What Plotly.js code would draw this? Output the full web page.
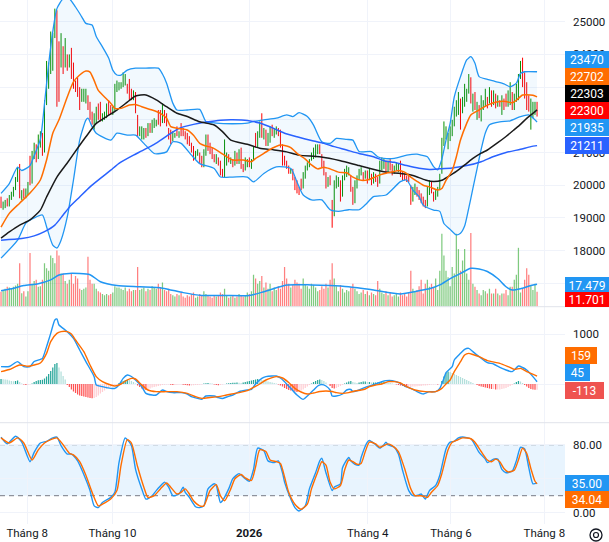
<!DOCTYPE html>
<html>
<head>
<meta charset="utf-8">
<script src="https://cdn.plot.ly/plotly-3.0.1.min.js"></script>
<style>
  html, body { margin: 0; padding: 0; background: #fff; }
  #chart { width: 609px; height: 542px; }
</style>
</head>
<body>
<div id="chart"></div>
<script>
// daily bars, mid-Jul 2025 .. end of Jul 2026 (bar index on the x axis)
var opens = [
  19600,19350,19450,19500,19400,19650,19750,19900,20200,20450,
  19650,19800,19650,19850,20500,20100,20950,21200,20850,21300,
  21550,21050,22500,23300,23650,24100,24550,25200,24300,23650,
  24200,23600,24000,23600,23900,23500,23150,23100,22900,22550,
  22600,22550,22750,22500,22200,21800,21950,22400,22350,22000,
  22050,22100,22550,22300,22200,22300,22900,23000,23050,23050,
  23200,23100,23200,22900,22650,22800,22150,21550,21500,21450,
  21700,21500,21850,21650,21800,21850,22000,22250,21900,22300,
  22050,21750,21450,21350,21500,21600,21500,21700,21600,21550,
  21500,21300,21250,21100,20850,20950,21000,20750,20600,20950,
  21300,21100,21050,20850,20700,20850,20650,20350,20300,20750,
  20950,20750,20800,20600,20950,20700,21050,20600,20450,20650,
  20800,20600,20750,21550,21200,21500,21950,21500,21700,21300,
  21350,21750,21550,21600,21750,21650,21200,20800,20700,20550,
  20400,20450,20200,19950,19850,20150,19900,20300,20500,20600,
  20750,20900,21050,21100,21150,20900,20700,20350,19950,20300,
  19500,19050,20000,20050,20150,19650,20200,20300,20400,20300,
  19850,19450,20000,20200,20400,20400,20250,20400,20150,20350,
  20050,20350,20200,20050,20500,20600,20750,20400,20800,20550,
  20350,20450,20500,20700,20350,20250,20200,20250,20000,19550,
  19800,19950,19750,19650,19550,19450,19400,19800,20050,19800,
  19550,19750,19900,20350,21300,21450,21150,21400,21550,21850,
  22150,22200,22650,22250,22450,22650,22850,23300,22300,22800,
  22050,22450,22000,22350,22450,22700,22500,22900,22450,22800,
  22400,22600,22200,22650,22750,22450,22500,22850,22350,22600,
  22650,23300,23800,23400,23000,22700,22250,22100,22200,22500
];
var highs = [
  19650,19500,19550,19600,19700,19800,19950,20250,20550,20650,
  19850,19900,19900,20100,20900,21050,21300,21250,21550,21650,
  21600,22600,23800,23750,24700,24650,25400,25350,24400,24650,
  24250,24500,24000,24000,24200,23750,23200,23300,23000,22950,
  22950,22950,22750,22550,22250,22200,22400,22500,22550,22200,
  22250,22500,22600,22450,22400,23100,23200,23150,23150,23450,
  23400,23100,23250,22950,22900,22850,22150,21800,21800,21750,
  21750,21900,21900,22000,22050,22000,22300,22300,22500,22300,
  22200,21750,21700,21650,21600,21800,21650,21900,21750,21650,
  21600,21500,21300,21200,21050,21100,21000,20900,21100,21550,
  21550,21300,21150,20950,20950,20850,20750,20500,21400,21000,
  20950,20850,20800,21050,21000,21100,21150,20650,20850,20800,
  20850,20800,21200,21600,21650,21950,22200,21750,21700,21600,
  21800,21850,21750,21800,21750,21700,21250,20900,20750,20600,
  20500,20500,20250,20150,19950,20200,20400,20600,20700,20800,
  21000,21150,21250,21250,21250,20950,20750,20400,20250,20300,
  19550,20150,20300,20250,20150,20300,20500,20600,20550,20300,
  19950,20150,20300,20500,20550,20400,20450,20450,20500,20350,
  20400,20350,20250,20750,20850,20800,20750,20750,20800,20650,
  20600,20700,20650,20750,20400,20350,20300,20350,20000,19950,
  20050,19950,19850,19750,19650,19550,19950,20150,20100,19800,
  19850,19950,20350,21450,21950,21800,21600,21800,22000,22400,
  22600,22850,22650,22700,23100,22950,23400,23300,22800,22850,
  22550,22450,22750,22600,22950,22700,23000,22900,22900,22800,
  22750,22600,22750,22650,22800,22900,23150,22850,22800,23100,
  23400,23800,23900,23450,23150,22750,22650,22550,22550,22550
];
var lows = [
  19300,19250,19300,19350,19350,19550,19650,19850,20100,19600,
  19550,19600,19600,19700,20000,20050,20800,20700,20800,21150,
  20900,21000,22450,22950,23400,23500,24500,22400,22550,23600,
  23400,23600,23500,23600,23250,22950,22850,22700,22300,22550,
  22550,22500,22300,22000,21850,21700,21900,22000,21950,21950,
  22000,22050,22150,22150,22150,22250,22850,22900,22950,23000,
  23050,22800,22600,22600,22600,22200,21500,21500,21400,21400,
  21450,21500,21600,21600,21750,21800,21850,21800,21900,21900,
  21800,21400,21250,21350,21450,21500,21450,21500,21500,21400,
  21250,21200,21000,20750,20800,20900,20650,20550,20550,20900,
  21050,20950,20800,20700,20650,20600,20300,20250,20250,20600,
  20700,20650,20550,20600,20650,20650,20500,20400,20450,20550,
  20550,20500,20750,21150,21150,21450,21450,21400,21200,21200,
  21300,21500,21450,21550,21500,21150,20600,20600,20500,20350,
  20350,20150,19850,19750,19700,19850,19900,20200,20450,20550,
  20750,20800,20850,20950,20950,20550,20300,19900,19950,20000,
  18700,19050,19900,19950,19500,19650,20150,20250,20300,19800,
  19400,19450,19900,20150,20300,20150,20200,20050,20150,20000,
  20050,20100,19950,20050,20450,20500,20350,20400,20450,20300,
  20350,20450,20400,20250,20150,20150,20100,20100,19400,19500,
  19700,19650,19550,19450,19350,19300,19350,19700,19750,19500,
  19550,19650,19850,20350,21200,21400,21100,21350,21500,21800,
  22100,22150,21700,22200,22400,22550,22800,22500,22250,22300,
  22000,22050,21950,22300,22400,22350,22500,22400,22450,22350,
  22400,22400,22150,22300,22400,22400,22450,22300,22300,22550,
  22600,23250,23000,22650,22300,22250,21700,22050,22150,22100
];
var closes = [
  19350,19450,19500,19400,19650,19750,19900,20200,20450,19650,
  19800,19650,19850,20050,20100,20950,21200,20850,21450,21550,
  21050,22500,23600,23650,24500,24550,25200,22700,22900,24450,
  23500,24300,23600,23900,23350,23000,22900,22750,22400,22900,
  22850,22900,22400,22100,21900,22150,22300,22050,22050,22150,
  22200,22450,22200,22200,22350,23000,23100,23100,23100,23350,
  23300,22850,22700,22650,22850,22300,21600,21750,21750,21700,
  21500,21850,21650,21950,22000,21950,21900,21850,22400,22000,
  21850,21450,21300,21600,21550,21550,21600,21550,21550,21450,
  21300,21250,21050,20850,21000,21050,20700,20600,21000,21450,
  21100,21000,20850,20750,20900,20650,20350,20300,21250,20950,
  20750,20800,20600,20950,20700,21050,20550,20450,20800,20750,
  20600,20750,21150,21200,21550,21900,21550,21700,21250,21350,
  21750,21550,21700,21750,21550,21200,20700,20650,20550,20400,
  20450,20200,19950,19800,19750,19900,20350,20550,20650,20750,
  20950,21100,21200,21200,21100,20600,20350,19950,20200,20050,
  19050,20100,20250,20200,19600,20250,20450,20550,20500,19850,
  19450,20100,20250,20450,20500,20200,20400,20100,20450,20050,
  20350,20150,20000,20700,20800,20750,20400,20700,20500,20350,
  20550,20650,20600,20300,20200,20200,20150,20150,19500,19900,
  20000,19700,19600,19500,19400,19350,19850,20100,19800,19550,
  19800,19900,20300,21350,21850,21750,21550,21750,21950,22350,
  22550,22800,21800,22650,23000,22900,23300,22600,22750,22350,
  22500,22100,22650,22550,22900,22400,22950,22450,22850,22400,
  22700,22450,22700,22350,22450,22850,23100,22350,22750,23050,
  23350,23750,23100,22700,22400,22300,22600,22500,22450,22300
];
// volume, millions
var volumes = [
  11.7,12.5,14,15.5,15,14,15.5,16.5,18,34,
  10.5,12,8,12,42,18,20,21,15.5,16,
  21,34,30,28,40,38,34,44,40,26,
  26,20,18,21,26,18,24,22,14,13,
  14,15,39,21,18,18,14,12,11,10,
  9,10,9,10,11,16,15,15,14,13,
  15,12,14,12,13,13,31,13,14,15,
  12,14,13,16,15,14,18,15,19,13,
  12,14,10,9,8,10,9,11,8,7,
  9,8,10,11,7,8,10,9,12,10,
  9,8,7,9,8,9,11,10,14,9,
  7,8,9,7,8,10,9,8,9,11,
  10,12,25,22,18,20,24,15,19,14,
  18,12,15,13,16,14,20,31,22,18,
  15,17,21,19,18,14,22,17,16,14,
  18,17,15,12,13,16,14,18,15,21,
  34,22,16,12,17,14,11,13,12,15,
  18,14,12,10,11,13,10,12,9,11,
  10,9,20,14,11,10,12,9,11,8,
  9,10,8,11,9,10,8,11,28,14,
  12,13,16,21,10.4,18,21,15.6,18,15,
  22,13,28,57,40,28,23,16,31,26,
  57,45,28,36,45,26,21,57.5,18,15.6,
  13,10.4,9,13,12,10.4,14,10.4,10.4,14,
  10.4,9,10.4,10.4,13,9,15.6,15.6,21,25,
  46,11,14,21,30,25,17,13,18,11.701
];
var volMaX = [0,5,11,18,24,28,33,43,48,56,67,78,88,97,108,120,127,138,150,159,168,180,193,202,207,212,217,222,227,231,235,240,244,247,251,256,259];
var volMaY = [12.5,14,16.5,18,21,24.7,26,25,19.5,16.5,15.5,14.5,11,8.8,8.8,8.8,11.7,17,17,16.5,15.5,13,10,12.5,14,17,22,26,30,29.5,27.5,22,15.6,13,14,16.5,17.479];

// Bollinger bands and moving averages, read at their turning points
var bbUpX = [0,4,8,10,14,16,19,21,23,25,27,30,33,36,39,41,44,46,49,52,54,56,58,61,65,70,76,78,80,83,85,90,96,99,104,112,119,122,127,133,138,141,144,148,151,155,159,162,167,170,173,179,182,185,190,196,201,203,206,209,211,213,215,217,219,222,225,227,229,231,235,239,243,246,249,251,253,259];
var bbUpY = [19750,20050,20550,20450,20600,20900,21400,22500,23700,24700,25400,25700,25700,25450,25150,24950,24900,24550,24230,23890,23520,23370,23370,23520,23580,23580,23580,23400,23120,22510,22300,22300,22320,21950,21900,21880,21900,21950,22000,22050,22150,22100,22220,22100,21840,21330,21280,21430,21400,21380,21030,21030,20870,20820,20820,20920,20950,20920,20870,20570,20470,20800,21380,21890,22700,23320,23830,23930,23730,23320,23240,23170,23100,23010,23120,23420,23470,23470];
var bbLowX = [0,8,12,16,20,22,25,27,29,32,35,38,41,42,44,46,53,56,61,65,69,74,77,80,83,87,92,96,103,106,112,119,122,127,133,140,143,146,150,155,159,163,168,173,176,180,186,193,196,199,202,204,209,212,214,217,220,222,224,226,228,230,232,234,236,241,246,251,255,259];
var bbLowY = [17770,18320,18840,19000,19090,18730,18170,18080,18320,19030,20160,21380,21990,22050,21790,21590,21380,21590,21530,21530,21280,20970,20970,21020,21330,21280,20920,20660,20510,20250,20250,20250,20100,20360,20560,20510,20100,19700,19550,19550,19250,19200,19250,19250,19400,19650,19700,20110,20160,19850,19650,19390,19240,19200,18830,18650,18480,18530,18750,19300,19900,20500,21100,21600,21850,21940,21970,22100,22150,21935];
var ma20X = [0,4,9,14,19,22,25,28,32,35,38,41,43,45,47,50,53,55,58,62,65,68,73,77,80,82,85,90,93,96,99,102,106,109,112,117,121,123,127,131,135,138,140,143,147,150,153,156,159,163,167,170,174,177,180,183,186,190,192,195,198,201,204,207,211,213,215,218,220,222,225,227,231,235,240,244,247,249,252,254,257,259];
var ma20Y = [18720,19140,19450,19760,20160,20770,21590,22000,22700,23160,23370,23490,23460,23200,22900,22700,22510,22350,22350,22450,22470,22400,22300,22200,22050,21790,21740,21690,21530,21280,21200,21150,21000,20870,20770,20770,20720,20820,20975,21130,21230,21200,21150,20975,20800,20620,20500,20550,20500,20400,20380,20250,20150,20160,20230,20313,20364,20420,20450,20400,20250,20120,20000,19950,19855,19900,20150,20450,20870,21380,21890,22150,22300,22450,22550,22560,22520,22600,22760,22770,22750,22702];
var ma50X = [0,4,9,14,19,22,27,32,37,41,46,51,56,61,65,70,75,80,85,90,96,103,107,111,119,125,132,138,144,154,164,173,185,193,199,205,209,213,216,220,225,228,232,235,240,244,248,251,254,257,259];
var ma50Y = [18380,18570,18780,18940,19240,19640,20250,20680,21130,21480,21890,22100,22300,22540,22730,22760,22610,22400,22200,22100,21940,21840,21640,21380,21250,21130,21080,21020,20920,20870,20750,20600,20410,20360,20300,20160,20110,20150,20260,20420,20670,20820,20980,21077,21300,21490,21700,21860,22045,22198,22303];
var maLongX = [0,10,16,21,26,30,33,38,43,48,53,57,64,68,74,80,86,93,99,106,112,119,125,132,137,143,151,156,161,167,173,180,185,190,196,202,207,212,218,225,232,238,244,251,256,259];
var maLongY = [18320,18370,18450,18580,18780,19090,19330,19640,19950,20210,20460,20670,20920,21050,21250,21500,21740,21860,21930,21990,22000,21980,21900,21730,21590,21480,21350,21280,21180,21077,20970,20873,20750,20700,20600,20517,20480,20500,20530,20600,20720,20880,21000,21100,21180,21211];

// MACD
var macdX = [0,4,8,11,14,16,19,20,22,24,26,27,28,30,32,35,38,41,45,46,49,53,55,57,59,61,63,65,68,70,73,75,78,80,83,87,90,92,95,97,99,103,105,107,109,112,115,119,121,123,126,128,131,133,135,137,140,143,146,148,151,153,155,157,159,160,162,165,167,169,170,173,176,178,181,184,186,189,193,195,198,201,204,207,210,212,214,215,218,219,222,224,226,228,231,235,238,241,244,247,250,252,254,257,259];
var macdY = [347,350,447,347,347,450,493,510,747,1013,1280,1300,1180,1113,1047,913,680,447,147,-20,-53,-87,-87,-20,113,180,150,80,-53,-187,-220,-220,-120,-150,-173,-173,-200,-253,-287,-307,-240,-240,-273,-290,-260,-220,-153,-120,-110,0,113,147,160,160,120,47,-87,-220,-307,-240,-120,-40,-10,-40,-120,-240,-240,-200,-120,-110,-150,-120,-67,-40,0,47,67,67,13,-40,-87,-153,-200,-153,-153,-87,113,227,347,480,613,693,713,647,547,427,400,333,280,247,360,330,280,147,45];
var signalX = [0,4,9,13,16,19,22,24,27,29,32,34,36,40,43,46,49,53,55,58,61,63,65,68,71,75,80,85,90,94,97,101,105,109,115,119,122,125,128,131,133,136,139,142,145,148,151,154,157,160,162,165,168,171,174,176,178,181,184,187,190,193,196,200,205,210,213,215,217,219,222,224,226,228,231,235,241,245,248,251,254,259];
var signalY = [247,290,380,355,380,420,613,847,1013,1047,1047,1000,880,647,380,147,47,-20,-40,0,80,113,100,-20,-120,-153,-153,-153,-187,-253,-287,-270,-253,-220,-173,-133,-67,0,80,127,147,120,30,-87,-160,-200,-180,-150,-140,-150,-173,-187,-173,-140,-120,-100,-53,-20,0,47,47,20,-53,-120,-153,-153,-87,0,80,247,447,580,613,590,547,467,413,347,293,313,247,159];
var hist = [
  100,95,90,85,70,60,55,60,70,40,
  10,-10,-20,-15,-5,10,40,60,75,80,
  85,110,150,200,260,330,400,420,330,250,
  160,90,-20,-60,-110,-150,-180,-210,-230,-240,
  -250,-260,-270,-280,-285,-280,-260,-230,-190,-160,
  -130,-100,-80,-60,-40,-20,-10,20,40,60,
  80,90,80,60,40,10,-30,-60,-90,-110,
  -120,-110,-90,-70,-60,-50,-40,-30,-20,-15,
  -10,-10,-15,-20,-20,-15,-10,-10,-15,-20,
  -25,-30,-30,-25,-20,-20,-15,-10,10,15,
  20,15,10,-10,-20,-25,-20,-10,0,10,
  15,20,25,25,30,25,20,30,40,50,
  60,70,80,90,100,90,80,70,60,50,
  40,30,20,10,-10,-30,-50,-80,-100,-120,
  -130,-140,-150,-160,-150,-130,-110,-80,-50,-20,
  10,40,60,80,90,80,60,30,0,-40,
  -80,-90,-80,-60,-40,-20,10,30,50,60,
  40,30,20,30,40,50,50,40,40,30,
  30,30,30,40,50,50,40,30,20,10,
  0,-10,-20,-30,-40,-50,-60,-60,-60,-50,
  -50,-45,-40,-40,-30,-30,-25,-20,-10,-10,
  -5,-10,0,60,150,220,250,240,220,200,
  180,160,140,120,100,80,60,40,20,0,
  -20,-40,-50,-60,-70,-80,-90,-100,-100,-110,
  -110,-110,-100,-90,-80,-60,-40,-20,10,40,
  60,50,20,-20,-50,-80,-100,-110,-115,-113
];

// Stochastic %K / %D
var stochKX = [0,3,7,10,14,16,19,22,25,27,29,32,34,37,40,43,45,47,49,53,55,57,60,61,63,65,68,70,73,75,78,79,81,83,86,88,89,91,94,96,98,100,103,104,106,107,110,112,115,117,120,122,124,127,129,132,134,136,137,140,142,144,147,149,152,154,155,157,160,161,164,165,168,169,171,173,174,177,178,181,183,185,186,187,190,192,194,197,199,202,203,205,207,210,212,215,217,219,221,223,227,228,231,234,235,238,240,242,244,247,249,251,253,255,257,259];
var stochKY = [89,81,90,83,60,71,82,84,88,89,79,69,69,61,45,26,8,6,12,18,24,59,88,86,79,51,28,16,20,26,34,36,30,20,22,30,24,18,7,6,8,28,34,32,12,14,28,40,46,42,37,51,76,73,61,59,61,47,36,16,6,2,8,28,47,61,64,47,26,30,34,53,65,61,57,56,65,83,85,80,76,80,83,80,77,69,50,26,20,21,22,16,26,32,44,75,83,84,88,89,87,84,71,63,59,63,63,51,47,49,61,77,75,53,34,35];
var stochDX = [0,4,8,11,15,18,21,24,27,30,33,35,38,41,44,47,49,53,56,58,61,63,66,69,71,74,77,80,82,85,87,89,91,93,96,98,101,104,106,108,111,113,116,118,121,123,125,128,130,133,135,137,139,142,145,148,150,153,155,157,159,161,164,166,168,170,172,174,176,178,181,183,185,187,189,192,195,198,200,203,206,208,211,213,216,218,220,223,227,229,232,235,237,239,241,243,245,248,250,252,254,256,258,259];
var stochDY = [88,82,88,82,62,74,82,86,88,80,70,68,60,44,24,8,10,16,26,56,86,82,54,30,18,20,28,35,30,22,24,28,22,14,8,8,26,33,20,14,28,40,45,41,38,54,74,72,62,60,58,42,24,10,4,10,28,48,60,56,36,28,32,50,62,60,57,58,72,83,81,77,79,81,79,72,52,28,20,20,18,24,32,46,74,83,85,88,87,83,72,62,60,63,60,52,48,50,62,76,70,52,37,34.04];

// time axis
var monthTicks = [12.64, 53.86, 119.9, 177.2, 217.4, 262.5];
var monthLabels = ["Tháng 8", "Tháng 10", "<b>2026</b>", "Tháng 4", "Tháng 6", "Tháng 8"];

// right-scale ticks; labels that sit fully under a value tag stay blank
var priceTickVals = [17000, 18000, 19000, 20000, 21000, 22000, 23000, 24000, 25000];
var priceTickText = ["", "18000", "19000", "20000", "21000", "", "", "24000", "25000"];
var macdTickVals = [0, 1000];
var macdTickText = ["", "1000"];
var stochTickVals = [0, 40, 80];
var stochTickText = ["0.00", "", "80.00"];

// last-value tags on the right scale: [text, pixel row, colour, width]
var priceTags = [
  ["23470", 59.3, "#2196f3", 44],
  ["22702", 76.7, "#ff6d00", 44],
  ["22303", 93.7, "#000000", 44],
  ["22300", 110.3, "#ff0000", 44],
  ["21935", 127.5, "#2196f3", 44],
  ["21211", 145.8, "#2962ff", 44],
  ["17.479", 285.5, "#2196f3", 44],
  ["11.701", 299.5, "#ff0000", 44],
  ["159", 355, "#ff6d00", 32],
  ["45", 372.3, "#2196f3", 25],
  ["-113", 390, "#ef5350", 39],
  ["35.00", 483, "#2196f3", 44],
  ["34.04", 499.5, "#ff6d00", 44]
];

(function () {
  "use strict";

  var W = 609, H = 542, MR = 44, MB = 18, PH = H - MB, PW = W - MR;
  var FONT = 'Roboto, "Open Sans", "DejaVu Sans", sans-serif';
  var GRID = "#f0f3fa", INK = "#131722";
  var UP = "#089000", DOWN = "#ff0000";
  var X_RANGE = [-0.5, 272.5];

  function py(px) { return 1 - px / PH; }           // pixel row -> paper y
  var cutPrice = py(306.7), cutMacd = py(422.7);

  var idx = closes.map(function (c, i) { return i; });
  var isUp = closes.map(function (c, i) { return c >= opens[i]; });

  function line(x, y, color, width, xa, ya, extra) {
    var t = {
      type: "scatter", mode: "lines", x: x, y: y, xaxis: xa, yaxis: ya,
      line: { color: color, width: width, shape: "spline", smoothing: 0.6 },
      hoverinfo: "skip"
    };
    for (var k in (extra || {})) { t[k] = extra[k]; }
    return t;
  }

  var histColors = hist.map(function (h, i) {
    var p = i ? hist[i - 1] : h;
    if (h >= 0) { return h >= p ? "#26a69a" : "#b2dfdb"; }
    return h < p ? "#ff5252" : "#ffcdd2";
  });

  var traces = [
    { type: "bar", x: idx, y: volumes, xaxis: "x", yaxis: "y", width: 0.6,
      marker: { color: isUp.map(function (u) { return u ? "rgba(0,150,0,0.5)" : "rgba(255,0,0,0.5)"; }) },
      hoverinfo: "skip" },
    line(volMaX, volMaY, "#2196f3", 1.5, "x", "y"),

    line(bbLowX, bbLowY, "#2196f3", 1.3, "x", "y2"),
    line(bbUpX, bbUpY, "#2196f3", 1.3, "x", "y2", { fill: "tonexty", fillcolor: "rgba(33,150,243,0.06)" }),
    { type: "ohlc", x: idx, open: opens, high: highs, low: lows, close: closes,
      xaxis: "x", yaxis: "y2", tickwidth: 0,
      increasing: { line: { color: UP, width: 1 } },
      decreasing: { line: { color: DOWN, width: 1 } },
      hoverinfo: "skip" },
    line(maLongX, maLongY, "#2962ff", 1.5, "x", "y2"),
    line(ma50X, ma50Y, "#1a1a1a", 1.5, "x", "y2"),
    line(ma20X, ma20Y, "#ff6d00", 1.5, "x", "y2"),

    { type: "bar", x: idx, y: hist, xaxis: "x2", yaxis: "y3", width: 0.6,
      marker: { color: histColors }, hoverinfo: "skip" },
    line(macdX, macdY, "#2196f3", 1.4, "x2", "y3"),
    line(signalX, signalY, "#ff6d00", 1.4, "x2", "y3"),

    line(stochKX, stochKY, "#2196f3", 1.4, "x3", "y4"),
    line(stochDX, stochDY, "#ff6d00", 1.4, "x3", "y4")
  ];

  function xAxis(extra) {
    var a = { range: X_RANGE, tickvals: monthTicks, ticktext: monthLabels, showgrid: true,
              gridcolor: GRID, zeroline: false, showline: false, ticks: "", fixedrange: true };
    for (var k in extra) { a[k] = extra[k]; }
    return a;
  }
  function yAxis(extra) {
    var a = { side: "right", gridcolor: GRID, zeroline: false, showline: false, ticks: "",
              ticklabelstandoff: 7, fixedrange: true };
    for (var k in extra) { a[k] = extra[k]; }
    return a;
  }

  var shapes = [
    { type: "rect", xref: "paper", yref: "y4", x0: 0, x1: 1, y0: 20, y1: 80,
      fillcolor: "rgba(33,150,243,0.1)", line: { width: 0 }, layer: "below" },
    { type: "line", xref: "paper", yref: "y4", x0: 0, x1: 1, y0: 80, y1: 80,
      line: { color: "#787b86", width: 1, dash: "5px,4px" }, layer: "below" },
    { type: "line", xref: "paper", yref: "y4", x0: 0, x1: 1, y0: 20, y1: 20,
      line: { color: "#787b86", width: 1, dash: "5px,4px" }, layer: "below" },
    { type: "line", xref: "paper", yref: "paper", x0: 0, x1: W / PW, y0: cutPrice, y1: cutPrice,
      line: { color: "#e0e3eb", width: 1 } },
    { type: "line", xref: "paper", yref: "paper", x0: 0, x1: W / PW, y0: cutMacd, y1: cutMacd,
      line: { color: "#e0e3eb", width: 1 } },
    // settings glyph, bottom right
    { type: "circle", xref: "paper", yref: "paper", x0: 590 / PW, x1: 602 / PW, y0: py(541), y1: py(529),
      line: { color: INK, width: 1.3 } },
    { type: "circle", xref: "paper", yref: "paper", x0: 593.5 / PW, x1: 598.5 / PW, y0: py(537.5), y1: py(532.5),
      line: { color: INK, width: 1.2 } }
  ];

  var annotations = priceTags.map(function (t) {
    return {
      xref: "paper", yref: "paper", x: 1, xanchor: "left", y: py(t[1]), yanchor: "middle",
      text: t[0], showarrow: false, bgcolor: t[2], borderpad: 0, borderwidth: 0,
      width: t[3], height: t[0] === "11.701" ? 15 : 17, align: "center",
      font: { family: FONT, size: 12, color: "#ffffff" }
    };
  });

  var layout = {
    width: W, height: H,
    margin: { l: 0, r: MR, t: 0, b: MB },
    paper_bgcolor: "#ffffff", plot_bgcolor: "#ffffff",
    font: { family: FONT, size: 11.5, color: INK },
    showlegend: false, hovermode: false,
    xaxis: xAxis({ anchor: "y", showticklabels: false, rangeslider: { visible: false } }),
    xaxis2: xAxis({ anchor: "y3", showticklabels: false }),
    xaxis3: xAxis({ anchor: "y4", showticklabels: true, tickfont: { family: FONT, size: 11.5, color: INK } }),
    yaxis: { domain: [cutPrice, 1], range: [0, 239.6], visible: false, fixedrange: true },
    yaxis2: yAxis({ overlaying: "y", anchor: "x", range: [16285, 25664],
                    tickvals: priceTickVals, ticktext: priceTickText }),
    yaxis3: yAxis({ domain: [cutMacd, cutPrice], anchor: "x2", range: [-774, 1546],
                    tickvals: macdTickVals, ticktext: macdTickText }),
    yaxis4: yAxis({ domain: [0, cutMacd], anchor: "x3", range: [-13.3, 105.9],
                    tickvals: stochTickVals, ticktext: stochTickText }),
    shapes: shapes,
    annotations: annotations
  };

  Plotly.newPlot("chart", traces, layout, { displayModeBar: false, staticPlot: true });
})();
</script>
</body>
</html>
